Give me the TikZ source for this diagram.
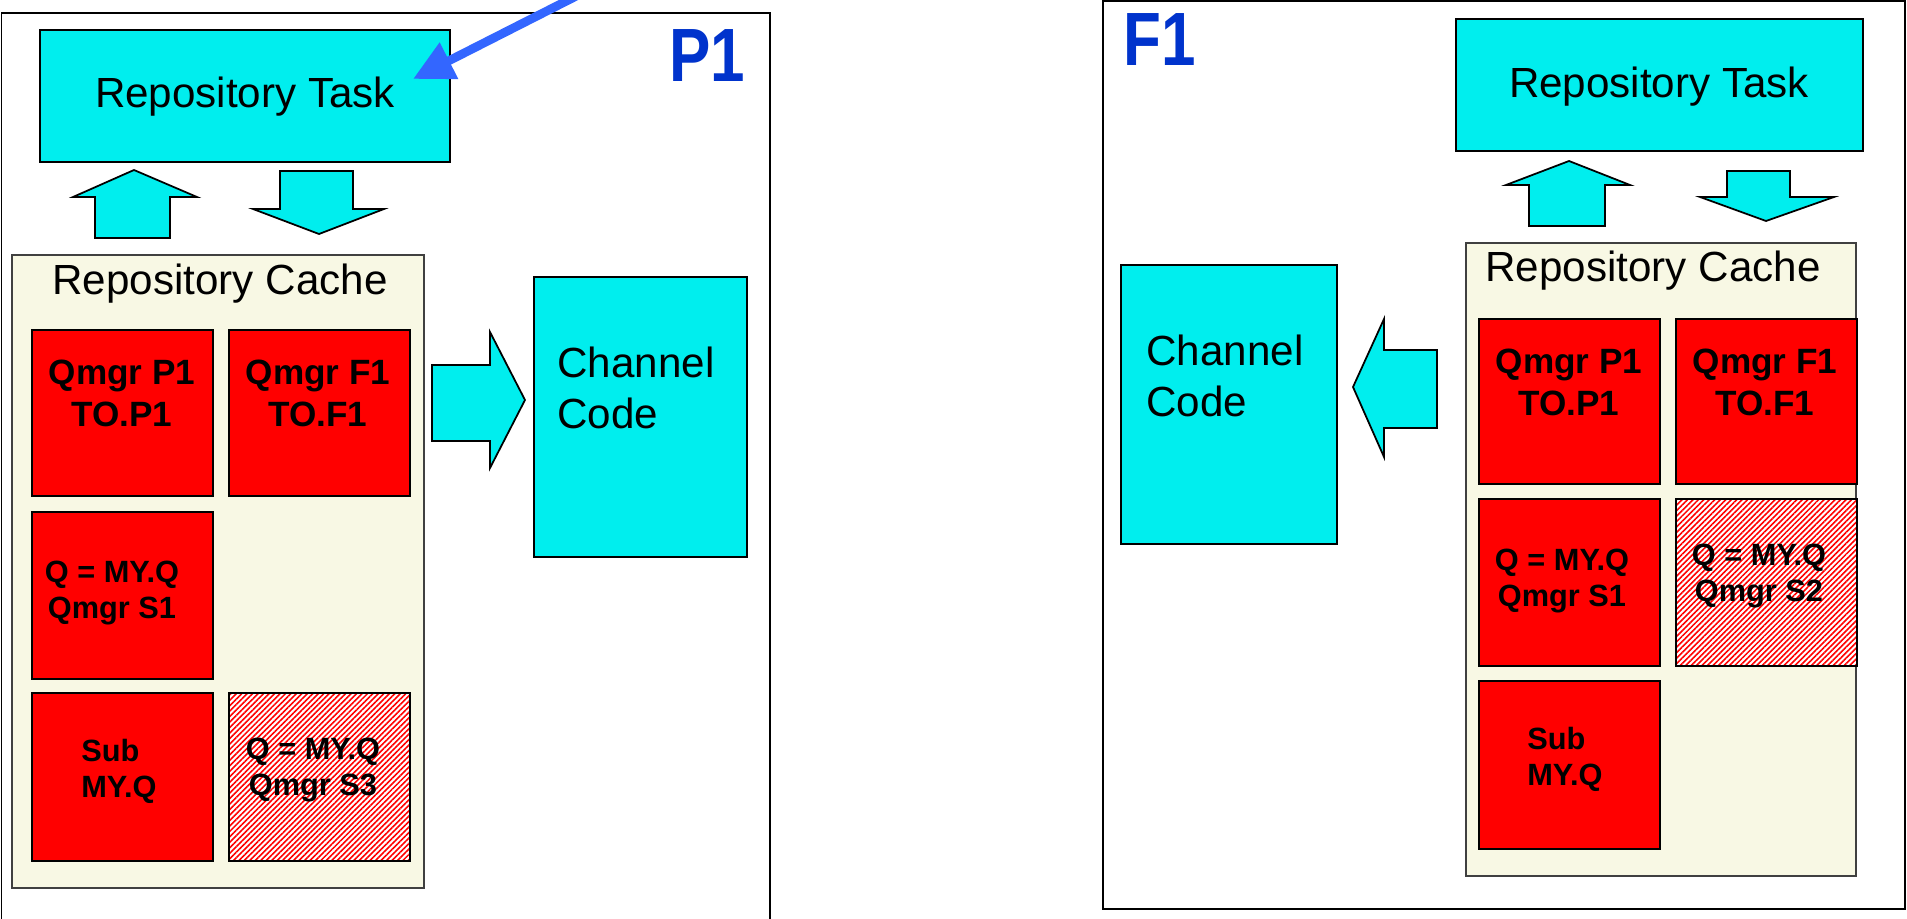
\documentclass[tikz,border=0pt]{standalone}
\usepackage{fontspec}
\usepackage{graphicx}
\setmainfont{Liberation Sans}
\usetikzlibrary{arrows.meta,fit,patterns.meta}

\definecolor{taskcyan}{RGB}{0,238,238}
\definecolor{cachebeige}{RGB}{248,248,228}
\definecolor{labelblue}{RGB}{0,51,204}
\definecolor{feedblue}{RGB}{51,102,255}

\tikzset{
  hostframe/.style={draw=black, line width=1.1pt},
  cyanbox/.style={draw=black, fill=taskcyan, line width=0.9pt, inner sep=0pt},
  cachebox/.style={draw=black!75, fill=cachebeige, line width=0.8pt, inner sep=0pt},
  redbox/.style={draw=black, fill=red, line width=1pt, inner sep=0pt},
  hatchbox/.style={draw=black, line width=1pt, inner sep=0pt, preaction={fill=white},
    pattern={Lines[angle=45,distance=2.2pt,line width=0.9pt]}, pattern color=red},
  blockarrow/.style={draw=black, fill=taskcyan, line width=1pt, line join=miter},
  feedarrow/.style={feedblue, line width=5pt, -{Triangle[length=23pt,width=22pt]}},
  toptxt/.style={font=\fontsize{20}{24}\selectfont\bfseries, align=center, inner sep=0pt},
  boldtxt/.style={font=\fontsize{17.5}{20.5}\selectfont\bfseries, align=center, inner sep=0pt},
  plaintxt/.style={font=\fontsize{24}{29}\selectfont, inner sep=0pt},
  hostlbl/.style={font=\fontsize{43}{43}\selectfont\bfseries, text=labelblue, inner sep=0pt},
}

\begin{document}
\begin{tikzpicture}[x=0.02cm, y=-0.02cm]
  \useasboundingbox (0,0) rectangle (1907,919);
  \clip (0,0) rectangle (1907,919);

  % queue manager P1
  \draw[hostframe] (1.5,13) rectangle (770,940);
  \node[hostlbl] (p1lbl) at (707,56) {\scalebox{0.82}[1]{P1}};
  \node[cyanbox, fit={(40,30) (450,162)}] (p1task) {};
  \node[plaintxt] (p1tasktxt) at (245,97) {Repository Task};
  \draw[blockarrow] (95,238) -- (95,197) -- (73,197) -- (134,170) -- (197,197) -- (170,197) -- (170,238) -- cycle;
  \draw[blockarrow] (280,171) -- (353,171) -- (353,209) -- (384,209) -- (319,234) -- (253,209) -- (280,209) -- cycle;
  \node[cachebox, fit={(12,255) (424,888)}] (p1cache) {};
  \node[plaintxt] (p1cachelbl) at (220,284) {Repository Cache};
  \node[redbox, fit={(32,330) (213,496)}] (p1qp) {};
  \node[redbox, fit={(229,330) (410,496)}] (p1qf) {};
  \node[redbox, fit={(32,512) (213,679)}] (p1qs) {};
  \node[redbox, fit={(32,693) (213,861)}] (p1sub) {};
  \node[hatchbox, fit={(229,693) (410,861)}] (p1qs3) {};
  \node[toptxt] (p1qptxt) at (122,393) {Qmgr P1\\TO.P1};
  \node[toptxt] (p1qftxt) at (318,393) {Qmgr F1\\TO.F1};
  \node[boldtxt] (p1qstxt) at (112,593) {Q = MY.Q\\Qmgr S1};
  \node[boldtxt, align=left, anchor=west] (p1subtxt) at (81,771) {Sub\\MY.Q};
  \node[boldtxt] (p1qs3txt) at (313,770) {Q = MY.Q\\Qmgr S3};
  \draw[blockarrow] (432,365) -- (490,365) -- (490,332) -- (525,400) -- (490,468) -- (490,441) -- (432,441) -- cycle;
  \node[cyanbox, fit={(534,277) (747,557)}] (p1chan) {};
  \node[plaintxt, align=left, anchor=west] (p1chantxt) at (557,388) {Channel\\Code};
  \coordinate (p1feed) at (600,-16);
  \coordinate (p1tip) at (413,79);
  \draw[feedarrow] (p1feed) -- (p1tip);

  % queue manager F1
  \draw[hostframe] (1103,1) rectangle (1905,909);
  \node[hostlbl] (f1lbl) at (1160,40) {\scalebox{0.82}[1]{F1}};
  \node[cyanbox, fit={(1456,19) (1863,151)}] (f1task) {};
  \node[plaintxt] (f1tasktxt) at (1659,87) {Repository Task};
  \draw[blockarrow] (1529,226) -- (1529,185) -- (1506,185) -- (1569,161) -- (1630,185) -- (1605,185) -- (1605,226) -- cycle;
  \draw[blockarrow] (1727,171) -- (1790,171) -- (1790,197) -- (1834,197) -- (1766,221) -- (1700,197) -- (1727,197) -- cycle;
  \node[cachebox, fit={(1466,243) (1856,876)}] (f1cache) {};
  \node[plaintxt] (f1cachelbl) at (1653,271) {Repository Cache};
  \node[redbox, fit={(1479,319) (1660,484)}] (f1qp) {};
  \node[redbox, fit={(1676,319) (1857,484)}] (f1qf) {};
  \node[redbox, fit={(1479,499) (1660,666)}] (f1qs) {};
  \node[hatchbox, fit={(1676,499) (1857,666)}] (f1qs2) {};
  \node[redbox, fit={(1479,681) (1660,849)}] (f1sub) {};
  \node[toptxt] (f1qptxt) at (1569,382) {Qmgr P1\\TO.P1};
  \node[toptxt] (f1qftxt) at (1765,382) {Qmgr F1\\TO.F1};
  \node[boldtxt] (f1qstxt) at (1562,581) {Q = MY.Q\\Qmgr S1};
  \node[boldtxt] (f1qs2txt) at (1759,576) {Q = MY.Q\\Qmgr S2};
  \node[boldtxt, align=left, anchor=west] (f1subtxt) at (1527,759) {Sub\\MY.Q};
  \node[cyanbox, fit={(1121,265) (1337,544)}] (f1chan) {};
  \node[plaintxt, align=left, anchor=west] (f1chantxt) at (1146,376) {Channel\\Code};
  \draw[blockarrow] (1437,350) -- (1384,350) -- (1384,319) -- (1353,387) -- (1384,457) -- (1384,428) -- (1437,428) -- cycle;
\end{tikzpicture}
\end{document}
